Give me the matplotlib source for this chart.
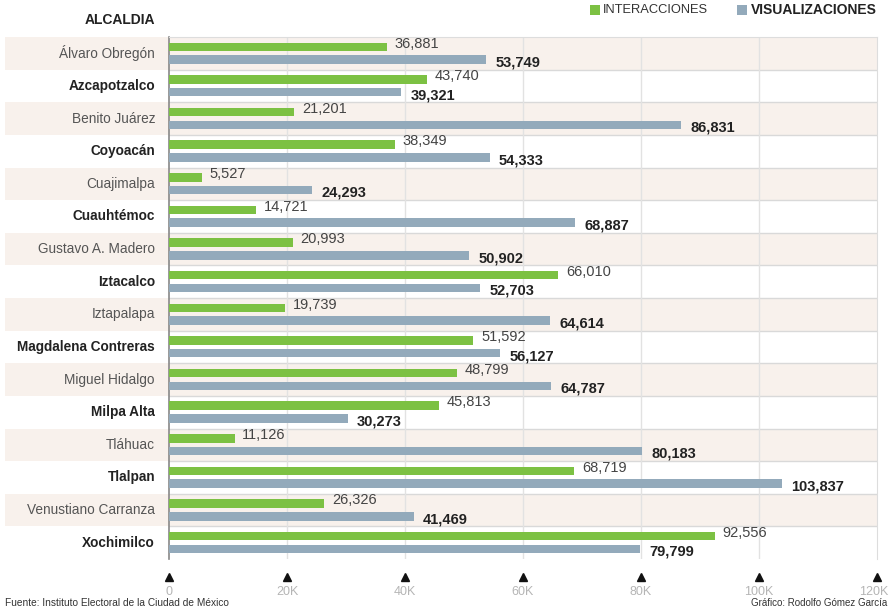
import matplotlib
matplotlib.use("Agg")
import matplotlib.pyplot as plt
import matplotlib.transforms as mtransforms
from matplotlib.patches import Rectangle

plt.rcParams['font.family'] = ['Liberation Sans', 'DejaVu Sans']

alcaldias = ["Álvaro Obregón", "Azcapotzalco", "Benito Juárez", "Coyoacán", "Cuajimalpa",
             "Cuauhtémoc", "Gustavo A. Madero", "Iztacalco", "Iztapalapa", "Magdalena Contreras",
             "Miguel Hidalgo", "Milpa Alta", "Tláhuac", "Tlalpan", "Venustiano Carranza", "Xochimilco"]
interacciones = [36881, 43740, 21201, 38349, 5527, 14721, 20993, 66010, 19739, 51592,
                 48799, 45813, 11126, 68719, 26326, 92556]
visualizaciones = [53749, 39321, 86831, 54333, 24293, 68887, 50902, 52703, 64614, 56127,
                   64787, 30273, 80183, 103837, 41469, 79799]
xticks = [0, 20000, 40000, 60000, 80000, 100000, 120000]
xticklabels = ["0", "20K", "40K", "60K", "80K", "100K", "120K"]

GREEN = "#7cc143"
GRAY = "#93aabb"

W, H = 889, 611
fig = plt.figure(figsize=(W / 100, H / 100), dpi=100)
ax_l, ax_r, ax_t, ax_b = 169, 877, 37, 559
ax = fig.add_axes([ax_l / W, 1 - ax_b / H, (ax_r - ax_l) / W, (ax_b - ax_t) / H])
n = len(alcaldias)
ax.set_xlim(0, 120000)
ax.set_ylim(n - 0.5, -0.5)

# row bands
blend = mtransforms.blended_transform_factory(fig.transFigure, ax.transData)
for i in range(n):
    if i % 2 == 0:
        r = Rectangle((5 / W, i - 0.5), (ax_r - 5) / W, 1.0, transform=blend,
                      facecolor="#f8f1ec", edgecolor="none", clip_on=False, zorder=0)
        fig.add_artist(r)
for i in range(1, n):
    ax.axhline(i - 0.5, color="#d9d9d9", lw=1.0, zorder=1)
for x in xticks[1:-1]:
    ax.axvline(x, color="#e2e2e2", lw=1.0, zorder=1)

ax.set_facecolor("none")
for s in ["top", "right", "bottom"]:
    ax.spines[s].set_color("#dddddd")
ax.spines["bottom"].set_visible(False)
ax.spines["left"].set_color("#888888")
ax.spines["left"].set_linewidth(1.2)

ys = list(range(n))
bh = 0.26
ax.barh([y - 0.2 for y in ys], interacciones, height=bh, color=GREEN, zorder=3)
ax.barh([y + 0.19 for y in ys], visualizaciones, height=bh, color=GRAY, zorder=3)

for y, v in zip(ys, interacciones):
    ax.text(v + 1300, y - 0.3, f"{v:,}", fontsize=10.5, color="#444444", va="center", ha="left", zorder=4)
for y, v in zip(ys, visualizaciones):
    ax.text(v + 1600, y + 0.28, f"{v:,}", fontsize=10.5, color="#222222", va="center", ha="left",
            fontweight="bold", zorder=4)

ax.set_yticks([])
ax.set_xticks([])
for i, name in enumerate(alcaldias):
    bold = i % 2 == 1
    ax.text(155 / W, i, name, transform=blend, ha="right", va="center", fontsize=9.8,
            color="#222222" if bold else "#555555", fontweight="bold" if bold else "normal")

tblend = mtransforms.blended_transform_factory(ax.transData, fig.transFigure)
for x, lab in zip(xticks, xticklabels):
    ax.plot([x], [1 - 577 / H], marker="^", color="#111111", markersize=5.5, transform=tblend, clip_on=False)
    if x == xticks[-1]:
        fig.text(888 / W, 1 - 592 / H, lab, ha="right", va="center", fontsize=9, color="#b5b5b5")
    else:
        ax.text(x, 1 - 592 / H, lab, transform=tblend, ha="center", va="center", fontsize=9, color="#b5b5b5")

fig.text(155 / W, 1 - 20 / H, "ALCALDIA", ha="right", va="center", fontsize=10, fontweight="bold", color="#222222")

# legend
fig.add_artist(Rectangle((590 / W, 1 - 15 / H), 10 / W, 10 / H, transform=fig.transFigure,
                         facecolor=GREEN, edgecolor="none"))
fig.text(603 / W, 1 - 10 / H, "INTERACCIONES", ha="left", va="center", fontsize=9.3, color="#333333")
fig.add_artist(Rectangle((737 / W, 1 - 15 / H), 10 / W, 10 / H, transform=fig.transFigure,
                         facecolor=GRAY, edgecolor="none"))
fig.text(751 / W, 1 - 10 / H, "VISUALIZACIONES", ha="left", va="center", fontsize=10, fontweight="bold", color="#222222")

fig.text(5 / W, 1 - 603 / H, "Fuente: Instituto Electoral de la Ciudad de México", ha="left", va="center",
         fontsize=7.3, color="#333333")
fig.text(887 / W, 1 - 603 / H, "Gráfico: Rodolfo Gómez García", ha="right", va="center",
         fontsize=7, color="#333333")

fig.savefig("out.png", dpi=100)
